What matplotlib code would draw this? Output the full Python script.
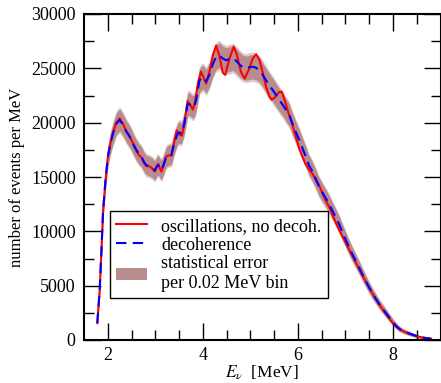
import numpy as np
import matplotlib
matplotlib.use('Agg')
from matplotlib import pyplot as plt
from matplotlib.patches import Patch
from matplotlib.lines import Line2D

plt.rcParams['font.family'] = ['Liberation Serif', 'DejaVu Serif']
plt.rcParams['mathtext.fontset'] = 'stix'

# decoherence curve (blue dashed)
e_dec = [1.78, 1.83, 1.87, 1.90, 1.95, 2.00, 2.05, 2.11, 2.18, 2.25, 2.32, 2.39, 2.45, 2.50,
         2.55, 2.60, 2.66, 2.71, 2.76, 2.81, 2.87, 2.92, 2.99, 3.03, 3.06, 3.10, 3.13, 3.18,
         3.23, 3.28, 3.34, 3.40, 3.47, 3.51, 3.55, 3.61, 3.68, 3.72, 3.78, 3.82, 3.86, 3.93,
         4.00, 4.07, 4.14, 4.21, 4.28, 4.35, 4.42, 4.49, 4.56, 4.63, 4.70, 4.77, 4.84, 4.91,
         4.98, 5.05, 5.12, 5.19, 5.26, 5.33, 5.40, 5.47, 5.54, 5.61, 5.68, 5.75, 5.82, 5.88,
         5.95, 6.03, 6.10, 6.17, 6.23, 6.30, 6.37, 6.44, 6.51, 6.58, 6.65, 6.72, 6.79, 6.86,
         6.93, 7.00, 7.07, 7.14, 7.21, 7.28, 7.35, 7.42, 7.49, 7.56, 7.63, 7.70, 7.77, 7.84,
         7.91, 7.98, 8.05, 8.12, 8.19, 8.26, 8.33, 8.40, 8.47, 8.54, 8.61, 8.68, 8.75, 8.80]
n_dec = [1560, 4600, 8500, 11800, 14600, 16800, 18000, 19000, 19900, 20250, 19800, 19200, 18800, 18400,
         17900, 17500, 17100, 16850, 16400, 16100, 16000, 15900, 15600, 15950, 16100, 15800, 15650, 16200,
         16850, 17000, 17050, 18100, 19000, 19100, 19000, 19900, 21700, 21700, 21450, 21500, 22100, 23900,
         24200, 23800, 24400, 25400, 26050, 26200, 25900, 25750, 25850, 25950, 25700, 25350, 25100, 25000,
         25100, 25150, 25050, 24850, 24400, 23900, 23450, 23000, 22550, 22080, 21650, 21160, 20700, 19950,
         19200, 18400, 17600, 16850, 16100, 15550, 14900, 14150, 13600, 13100, 12580, 11950, 11350, 10740,
         10000, 9300, 8590, 7950, 7350, 6750, 6100, 5500, 4900, 4350, 3850, 3380, 2950, 2550,
         2150, 1750, 1380, 1080, 880, 740, 620, 510, 400, 300, 240, 190, 150, 120]

# oscillations, no decoherence (red solid)
e_osc = [1.78, 1.83, 1.87, 1.90, 1.95, 2.00, 2.05, 2.11, 2.18, 2.25, 2.32, 2.39, 2.45, 2.50,
         2.55, 2.60, 2.66, 2.71, 2.76, 2.81, 2.87, 2.92, 2.99, 3.03, 3.06, 3.10, 3.13, 3.18,
         3.23, 3.28, 3.34, 3.40, 3.45, 3.51, 3.56, 3.61, 3.68, 3.74, 3.79, 3.84, 3.90, 3.96,
         4.02, 4.07, 4.14, 4.21, 4.28, 4.35, 4.42, 4.47, 4.56, 4.65, 4.72, 4.80, 4.88, 4.96,
         5.05, 5.12, 5.19, 5.26, 5.33, 5.40, 5.45, 5.52, 5.60, 5.66, 5.72, 5.80, 5.88, 5.95,
         6.03, 6.09, 6.16, 6.23, 6.30, 6.37, 6.44, 6.51, 6.58, 6.65, 6.72, 6.79, 6.86, 6.93,
         7.00, 7.07, 7.14, 7.21, 7.28, 7.35, 7.42, 7.49, 7.56, 7.63, 7.70, 7.77, 7.84, 7.91,
         7.98, 8.05, 8.12, 8.19, 8.26, 8.33, 8.40, 8.47, 8.54, 8.61, 8.68, 8.75, 8.80]
n_osc = [1560, 4600, 8500, 11800, 14600, 16800, 18000, 19100, 20000, 20400, 19900, 19200, 18800, 18400,
         17900, 17400, 17000, 16800, 16300, 16000, 16000, 15850, 15500, 15950, 16200, 15750, 15500, 16200,
         16900, 17000, 16950, 18300, 19300, 18900, 18800, 19900, 22000, 21600, 21200, 22000, 23700, 24700,
         24100, 23600, 24700, 26200, 27100, 26100, 24600, 24400, 25900, 27000, 26200, 24700, 24050, 24800,
         25900, 26300, 25800, 24600, 23300, 22400, 22100, 22350, 22800, 22850, 22100, 20900, 19900, 18800,
         17600, 16900, 16200, 15700, 15350, 14800, 14300, 13600, 12900, 12300, 11600, 10900, 10200, 9600,
         9000, 8400, 7800, 7200, 6600, 6000, 5450, 4900, 4350, 3850, 3350, 2900, 2450, 2050,
         1650, 1300, 1050, 870, 730, 610, 500, 400, 310, 240, 190, 150, 120]

bin_width = 0.02  # MeV

e_dec = np.array(e_dec)
n_dec = np.array(n_dec, dtype=float)
err = np.sqrt(n_dec * bin_width) / bin_width  # poisson error per bin, scaled per MeV

fig = plt.figure(figsize=(4.41, 3.83), dpi=100)
ax = fig.add_axes([84/441, 43/383, 356.5/441, 326/383])

band_col = '#b88c8c'
ax.fill_between(e_dec, n_dec - 1.2*err, n_dec + 1.2*err, color='#dccaca', lw=0)
ax.fill_between(e_dec, n_dec - err, n_dec + err, color=band_col, lw=0)
ax.plot(e_osc, n_osc, color='#ff0000', lw=1.5)
ax.plot(e_dec, n_dec, color='#0000ff', lw=1.5, dashes=(5, 3))

ax.set_xlim(1.5, 9.0)
ax.set_ylim(0, 30000)
ax.set_xticks([2, 4, 6, 8])
ax.set_xticks(np.arange(2.5, 9.0, 0.5), minor=True)
ax.set_yticks(np.arange(0, 30001, 5000))
ax.set_yticks(np.arange(2500, 30000, 5000), minor=True)
ax.tick_params(which='both', direction='in', top=True, right=True, width=1, labelsize=13)
ax.tick_params(which='major', length=12, pad=6)
ax.tick_params(axis='x', which='major', pad=5)
ax.tick_params(which='minor', length=7)
for s in ax.spines.values():
    s.set_linewidth(1.5)

ax.set_ylabel('number of events per MeV', fontsize=12, labelpad=4)
ax.set_xlabel(r'$E_\nu$  [MeV]', fontsize=12.5, labelpad=0)

handles = [Line2D([], [], color='#ff0000', lw=1.5),
           Line2D([], [], color='#0000ff', lw=1.5, dashes=(5, 3)),
           Patch(facecolor=band_col, edgecolor='none')]
labels = ['oscillations, no decoh.', 'decoherence', 'statistical error\nper 0.02 MeV bin']
leg = ax.legend(handles, labels, loc='lower left', bbox_to_anchor=(0.073, 0.128),
                borderaxespad=0, fontsize=13, fancybox=False, framealpha=1, edgecolor='black',
                handlelength=1.7, handletextpad=0.8, borderpad=0.35, labelspacing=0.1)
leg.get_frame().set_linewidth(1)

fig.savefig('out.png', dpi=100)
